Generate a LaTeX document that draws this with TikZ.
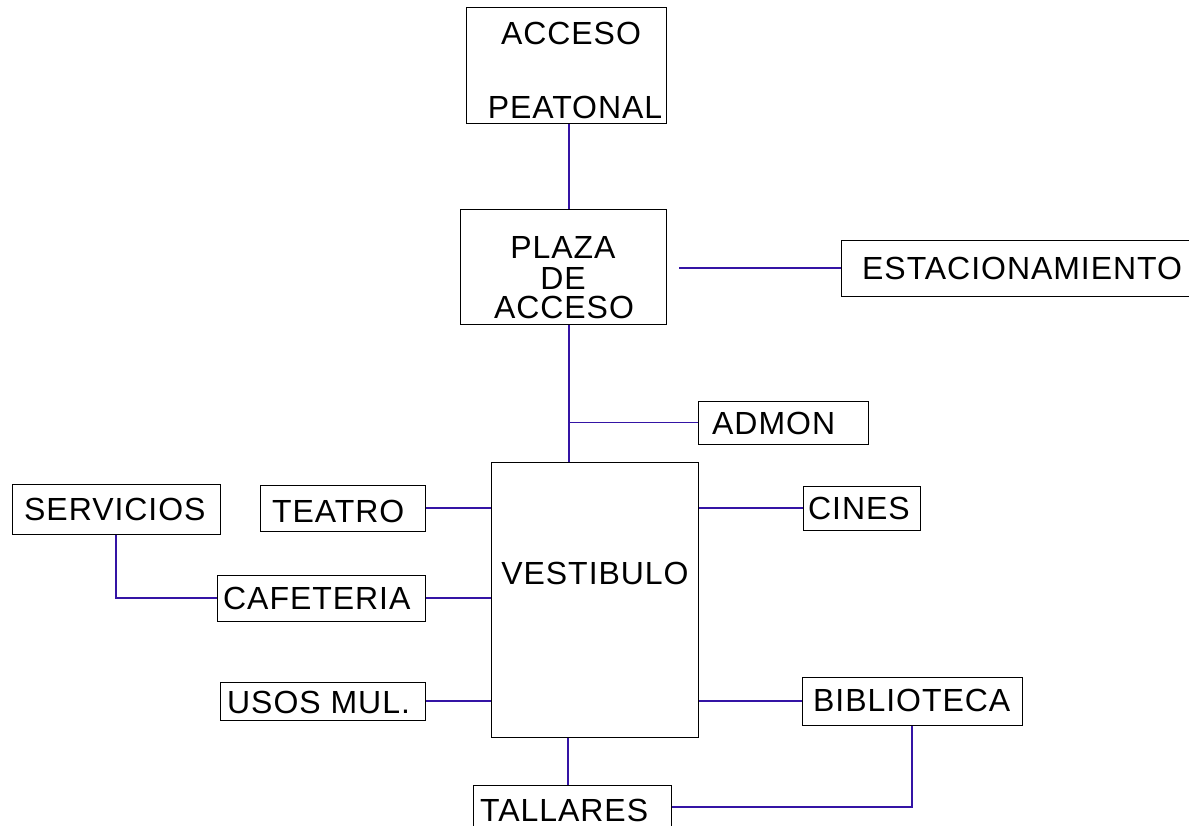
\documentclass[tikz,border=0pt]{standalone}
\usepackage{fontspec}
\setmainfont{Liberation Sans}[LetterSpace=3]
\definecolor{linkc}{RGB}{52,20,165}
\begin{document}
\begin{tikzpicture}[x=1pt,y=-1pt,
  box/.style={draw=black,line width=1pt,inner sep=0pt},
  lbl/.style={inner sep=0pt,font=\fontsize{32}{32}\selectfont},
  link/.style={draw=linkc,line width=1.2pt}]
\useasboundingbox (0,0) rectangle (1189,826);
\clip (0,0) rectangle (1189,826);
% boxes
\node[box,minimum width=200pt,minimum height=116pt] (ap) at (566,66) {};
\node[box,minimum width=206pt,minimum height=115pt] (pda) at (563,267.5) {};
\node[box,minimum width=360pt,minimum height=56pt,anchor=north west] (est) at (841,240) {};
\node[box,minimum width=170pt,minimum height=43pt] (admon) at (783,422.5) {};
\node[box,minimum width=207pt,minimum height=275pt] (vest) at (594.5,599.5) {};
\node[box,minimum width=165pt,minimum height=46pt] (teatro) at (342.5,508) {};
\node[box,minimum width=208pt,minimum height=50pt] (serv) at (116,509) {};
\node[box,minimum width=208pt,minimum height=46pt] (caf) at (321,598) {};
\node[box,minimum width=205pt,minimum height=38pt] (usos) at (322.5,701) {};
\node[box,minimum width=117pt,minimum height=44pt] (cines) at (861.5,508) {};
\node[box,minimum width=220pt,minimum height=48pt] (bib) at (912,701) {};
\node[box,minimum width=198pt,minimum height=60pt,anchor=north west] (tall) at (473,785) {};
% labels
\node[lbl] (t1) at (571,33) {ACCESO};
\node[lbl] (t2) at (575,107) {PEATONAL};
\node[lbl] (t3) at (563,247) {PLAZA};
\node[lbl] (t4) at (563,278) {DE};
\node[lbl] (t5) at (564,307) {ACCESO};
\node[lbl,anchor=west] (t6) at (862,268) {ESTACIONAMIENTO};
\node[lbl,anchor=west] (t7) at (712,423) {ADMON};
\node[lbl] (t8) at (595,573) {VESTIBULO};
\node[lbl,anchor=west] (t9) at (272,511) {TEATRO};
\node[lbl,anchor=west] (t10) at (24,509) {SERVICIOS};
\node[lbl,anchor=west] (t11) at (223,598) {CAFETERIA};
\node[lbl,anchor=west] (t12) at (227,702) {USOS MUL.};
\node[lbl,anchor=west] (t13) at (808,508) {CINES};
\node[lbl,anchor=west] (t14) at (813,700) {BIBLIOTECA};
\node[lbl,anchor=west] (t15) at (480,810) {TALLARES};
% helper coordinates
\coordinate (cx) at (569,0);
\coordinate (cb) at (568,0);
\coordinate (e1) at (679,268);
\coordinate (a1) at (569,422.5);
\coordinate (s1) at (116,0);
\coordinate (b1) at (912,807);
% connectors
\draw[link] (ap.south -| cx) -- (pda.north -| cx);
\draw[link] (e1) -- (e1 -| est.west);
\draw[link] (pda.south -| cx) -- (vest.north -| cx);
\draw[link] (a1) -- (a1 -| admon.west);
\draw[link] (teatro.east) -- (teatro.east -| vest.west);
\draw[link] (caf.east) -- (caf.east -| vest.west);
\draw[link] (usos.east) -- (usos.east -| vest.west);
\draw[link] (cines.west -| vest.east) -- (cines.west);
\draw[link] (bib.west -| vest.east) -- (bib.west);
\draw[link] (vest.south -| cb) -- (tall.north -| cb);
\draw[link] (b1 -| tall.east) -- (b1) -- (b1 |- bib.south);
\draw[link] (serv.south -| s1) |- (caf.west);
\end{tikzpicture}
\end{document}
